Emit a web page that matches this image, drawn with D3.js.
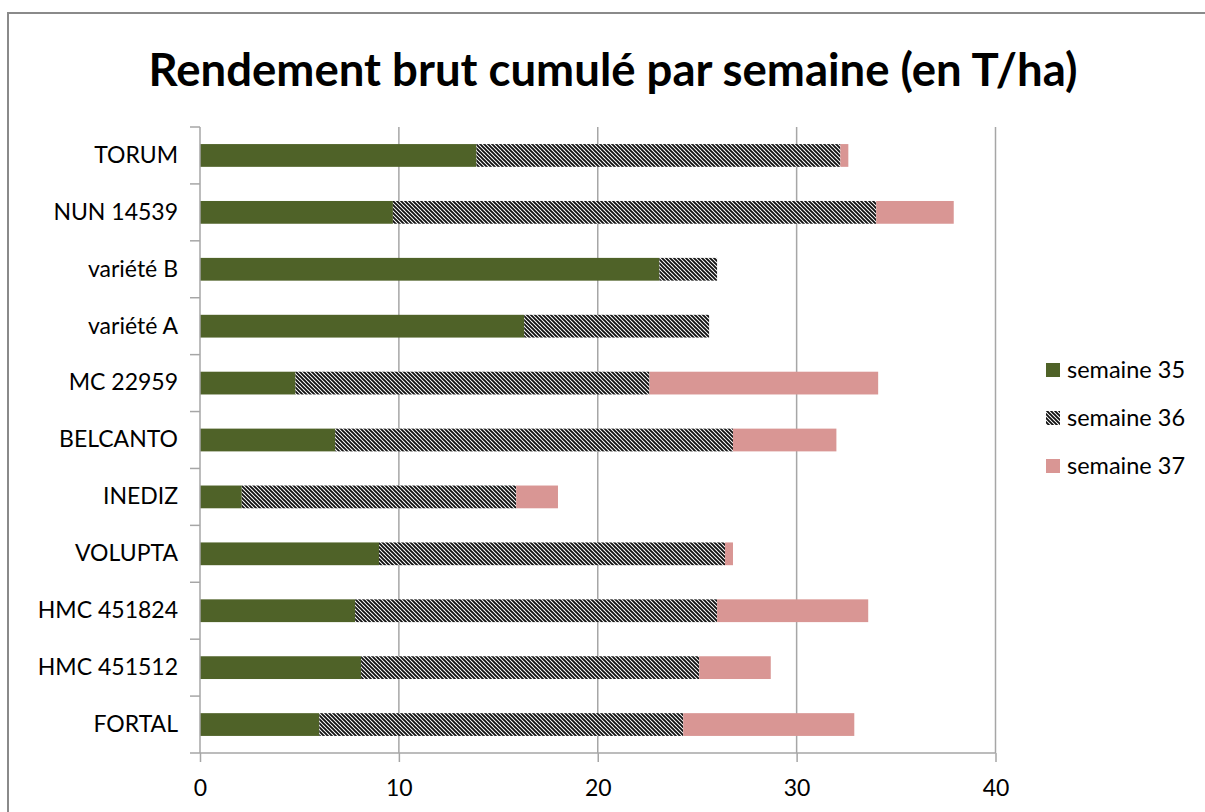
<!DOCTYPE html>
<html>
<head>
<meta charset="utf-8">
<script src="https://cdn.jsdelivr.net/npm/d3@7"></script>
<style>
  body { margin: 0; background: #fff; }
  svg text { font-family: Lato, "Open Sans", sans-serif; fill: #000; }
</style>
</head>
<body>
<div id="chart"></div>
<script>
// Data (T/ha per week, stacked)
var categories = ["TORUM", "NUN 14539", "variété B", "variété A", "MC 22959", "BELCANTO",
                  "INEDIZ", "VOLUPTA", "HMC 451824", "HMC 451512", "FORTAL"];
var semaine35 = [13.9, 9.7, 23.1, 16.3, 4.8, 6.8, 2.1, 9.0, 7.8, 8.1, 6.0];
var semaine36 = [18.3, 24.3, 2.9, 9.3, 17.8, 20.0, 13.8, 17.4, 18.2, 17.0, 18.3];
var semaine37 = [0.4, 3.9, 0, 0, 11.5, 5.2, 2.1, 0.4, 7.6, 3.6, 8.6];
var seriesNames = ["semaine 35", "semaine 36", "semaine 37"];
var xTicks = [0, 10, 20, 30, 40];
var title = "Rendement brut cumulé par semaine (en T/ha)";

const W = 1205, H = 812;
const margin = {top: 127, left: 200};
const plotW = 795.5, plotH = 626;

var svg = d3.select("#chart").append("svg")
    .attr("width", W)
    .attr("height", H);

// hatch pattern for semaine 36 (dark downward diagonal)
var defs = svg.append("defs");
var pat = defs.append("pattern")
    .attr("id", "hatch")
    .attr("patternUnits", "userSpaceOnUse")
    .attr("width", 4)
    .attr("height", 4);
pat.append("rect").attr("width", 4).attr("height", 4).attr("fill", "#fff");
pat.append("path")
    .attr("d", "M-1,-1 L5,5 M-1,3 L1,5 M3,-1 L5,1")
    .attr("stroke", "#111")
    .attr("stroke-width", 1.9);

var fills = ["#4F6228", "url(#hatch)", "#D99694"];

// outer chart border
svg.append("rect")
    .attr("x", 8).attr("y", 13)
    .attr("width", W + 20).attr("height", H + 20)
    .attr("fill", "none")
    .attr("stroke", "#8a8a8a")
    .attr("stroke-width", 2);

svg.append("text")
    .attr("x", 613).attr("y", 86)
    .attr("text-anchor", "middle")
    .attr("font-weight", "bold")
    .attr("font-size", 45.5)
    .text(title);

var x = d3.scaleLinear().domain([0, 40]).range([margin.left, margin.left + plotW]);
var y = d3.scaleBand().domain(categories)
    .range([margin.top, margin.top + plotH])
    .paddingInner(0.6).paddingOuter(0.3);

// vertical gridlines
svg.append("g").selectAll("line")
    .data(xTicks.slice(1))
    .enter().append("line")
    .attr("x1", d => x(d)).attr("x2", d => x(d))
    .attr("y1", margin.top).attr("y2", margin.top + plotH)
    .attr("stroke", "#a6a6a6")
    .attr("stroke-width", 1.5);

// stacked bars
var stackData = categories.map((c, i) => ({cat: c, s35: semaine35[i], s36: semaine36[i], s37: semaine37[i]}));
var stack = d3.stack().keys(["s35", "s36", "s37"])(stackData);

svg.append("g").selectAll("g")
    .data(stack)
    .enter().append("g")
    .attr("fill", (d, i) => fills[i])
    .selectAll("rect")
    .data(d => d)
    .enter().append("rect")
    .attr("x", d => x(d[0]))
    .attr("width", d => x(d[1]) - x(d[0]))
    .attr("y", d => y(d.data.cat))
    .attr("height", y.bandwidth());

// x axis
var xAxis = d3.axisBottom(x).tickValues(xTicks).tickSize(9).tickPadding(18);
var gx = svg.append("g")
    .attr("transform", "translate(0," + (margin.top + plotH) + ")")
    .call(xAxis);
gx.select(".domain").remove();
gx.selectAll("line").attr("stroke", "#a6a6a6").attr("stroke-width", 1.5);
gx.selectAll("text").attr("font-size", 23).attr("font-family", "Lato, sans-serif");

svg.append("line")
    .attr("x1", margin.left - 10).attr("x2", margin.left + plotW)
    .attr("y1", margin.top + plotH).attr("y2", margin.top + plotH)
    .attr("stroke", "#a6a6a6").attr("stroke-width", 1.5);

// y axis: labels, axis line and ticks between categories
var yAxis = d3.axisLeft(y).tickSize(0).tickPadding(22);
var gy = svg.append("g")
    .attr("transform", "translate(" + margin.left + ",0)")
    .call(yAxis);
gy.select(".domain").remove();
gy.selectAll("text").attr("font-size", 23).attr("font-family", "Lato, sans-serif");

svg.append("line")
    .attr("x1", margin.left).attr("x2", margin.left)
    .attr("y1", margin.top).attr("y2", margin.top + plotH)
    .attr("stroke", "#a6a6a6").attr("stroke-width", 1.5);

var gap = (y.step() - y.bandwidth()) / 2;
svg.append("g").selectAll("line")
    .data(categories)
    .enter().append("line")
    .attr("x1", margin.left - 10).attr("x2", margin.left)
    .attr("y1", d => y(d) - gap).attr("y2", d => y(d) - gap)
    .attr("stroke", "#a6a6a6").attr("stroke-width", 1.5);

// legend
var legend = svg.append("g").selectAll("g")
    .data(seriesNames)
    .enter().append("g")
    .attr("transform", (d, i) => "translate(1046," + (370 + i * 48) + ")");
legend.append("rect")
    .attr("x", 0).attr("y", -7)
    .attr("width", 14).attr("height", 14)
    .attr("fill", (d, i) => fills[i]);
legend.append("text")
    .attr("x", 21).attr("y", 0)
    .attr("dy", "0.35em")
    .attr("font-size", 23.5)
    .text(d => d);
</script>
</body>
</html>
